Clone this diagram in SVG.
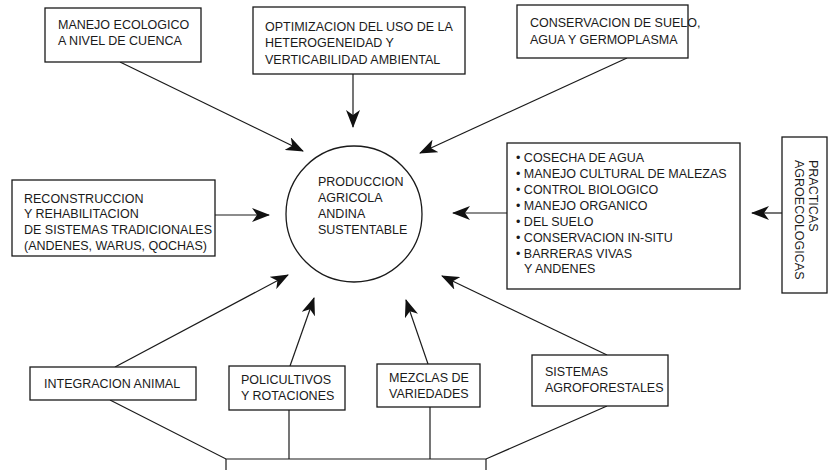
<svg xmlns="http://www.w3.org/2000/svg" width="828" height="470" viewBox="0 0 828 470">
<defs>
<style>
.box{fill:#fff;stroke:#1a1a1a;stroke-width:1.3}
.ln{fill:none;stroke:#1a1a1a;stroke-width:1.2}
text{font-family:"Liberation Sans",Arial,sans-serif;font-size:12.5px;fill:#1a1a1a}
</style>
<marker id="ah" viewBox="0 0 18 14" refX="17" refY="7" markerWidth="18" markerHeight="14" markerUnits="userSpaceOnUse" orient="auto">
<path d="M0,0 L18,7 L0,14 L5,7 z" fill="#111"/>
</marker>
</defs>
<rect width="828" height="470" fill="#fff"/>
<g id="connectors">
<line class="ln" x1="120" y1="62" x2="303" y2="151" marker-end="url(#ah)"/>
<line class="ln" x1="353" y1="74" x2="353" y2="127" marker-end="url(#ah)"/>
<line class="ln" x1="627" y1="58" x2="420" y2="153" marker-end="url(#ah)"/>
<line class="ln" x1="215" y1="215" x2="269" y2="215" marker-end="url(#ah)"/>
<line class="ln" x1="507" y1="213" x2="453" y2="213" marker-end="url(#ah)"/>
<line class="ln" x1="782" y1="213" x2="752" y2="213" marker-end="url(#ah)"/>
<line class="ln" x1="115" y1="367" x2="288" y2="275" marker-end="url(#ah)"/>
<line class="ln" x1="290" y1="366" x2="314" y2="298" marker-end="url(#ah)"/>
<line class="ln" x1="428" y1="364" x2="406" y2="300" marker-end="url(#ah)"/>
<line class="ln" x1="607" y1="355" x2="442" y2="276" marker-end="url(#ah)"/>
<polyline class="ln" points="110,400 226,459 486,459 607,406"/>
<line class="ln" x1="226" y1="459" x2="226" y2="470"/>
<line class="ln" x1="486" y1="459" x2="486" y2="470"/>
<line class="ln" x1="289" y1="410" x2="289" y2="459"/>
<line class="ln" x1="430" y1="407" x2="430" y2="459"/>
</g>
<g id="n-manejo">
<rect class="box" x="45" y="8" width="156" height="54"/>
<text x="58" y="29">MANEJO ECOLOGICO</text>
<text x="58" y="45">A NIVEL DE CUENCA</text>
</g>
<g id="n-optimizacion">
<rect class="box" x="253" y="7" width="212" height="67"/>
<text x="265" y="31">OPTIMIZACION DEL USO DE LA</text>
<text x="265" y="47">HETEROGENEIDAD Y</text>
<text x="265" y="64">VERTICABILIDAD AMBIENTAL</text>
</g>
<g id="n-conservacion">
<rect class="box" x="517" y="5" width="171" height="53"/>
<text x="530" y="27">CONSERVACION DE SUELO,</text>
<text x="530" y="44">AGUA Y GERMOPLASMA</text>
</g>
<g id="n-reconstruccion">
<rect class="box" x="12" y="180" width="203" height="76"/>
<text x="24" y="203">RECONSTRUCCION</text>
<text x="24" y="218">Y REHABILITACION</text>
<text x="24" y="234">DE SISTEMAS TRADICIONALES</text>
<text x="24" y="250">(ANDENES, WARUS, QOCHAS)</text>
</g>
<g id="n-produccion">
<circle cx="354" cy="214" r="68" fill="#fff" stroke="#1a1a1a" stroke-width="1.3"/>
<text x="318" y="186">PRODUCCION</text>
<text x="318" y="202">AGRICOLA</text>
<text x="318" y="218">ANDINA</text>
<text x="318" y="234">SUSTENTABLE</text>
</g>
<g id="n-practicas-lista">
<rect class="box" x="507" y="143" width="233" height="146"/>
<text x="516" y="162">• COSECHA DE AGUA</text>
<text x="516" y="178">• MANEJO CULTURAL DE MALEZAS</text>
<text x="516" y="194">• CONTROL BIOLOGICO</text>
<text x="516" y="210">• MANEJO ORGANICO</text>
<text x="516" y="226">• DEL SUELO</text>
<text x="516" y="242">• CONSERVACION IN-SITU</text>
<text x="516" y="258">• BARRERAS VIVAS</text>
<text x="524" y="273">Y ANDENES</text>
</g>
<g id="n-practicas">
<rect class="box" x="782" y="137" width="45" height="156"/>
<text transform="translate(809,160) rotate(90)">PRACTICAS</text>
<text transform="translate(795,160) rotate(90)">AGROECOLOGICAS</text>
</g>
<g id="n-integracion">
<rect class="box" x="30" y="367" width="166" height="33"/>
<text x="44" y="388">INTEGRACION ANIMAL</text>
</g>
<g id="n-policultivos">
<rect class="box" x="229" y="366" width="116" height="44"/>
<text x="241" y="384">POLICULTIVOS</text>
<text x="241" y="400">Y ROTACIONES</text>
</g>
<g id="n-mezclas">
<rect class="box" x="377" y="364" width="103" height="43"/>
<text x="389" y="382">MEZCLAS DE</text>
<text x="389" y="398">VARIEDADES</text>
</g>
<g id="n-sistemas">
<rect class="box" x="532" y="355" width="136" height="51"/>
<text x="545" y="376">SISTEMAS</text>
<text x="545" y="392">AGROFORESTALES</text>
</g>
</svg>
